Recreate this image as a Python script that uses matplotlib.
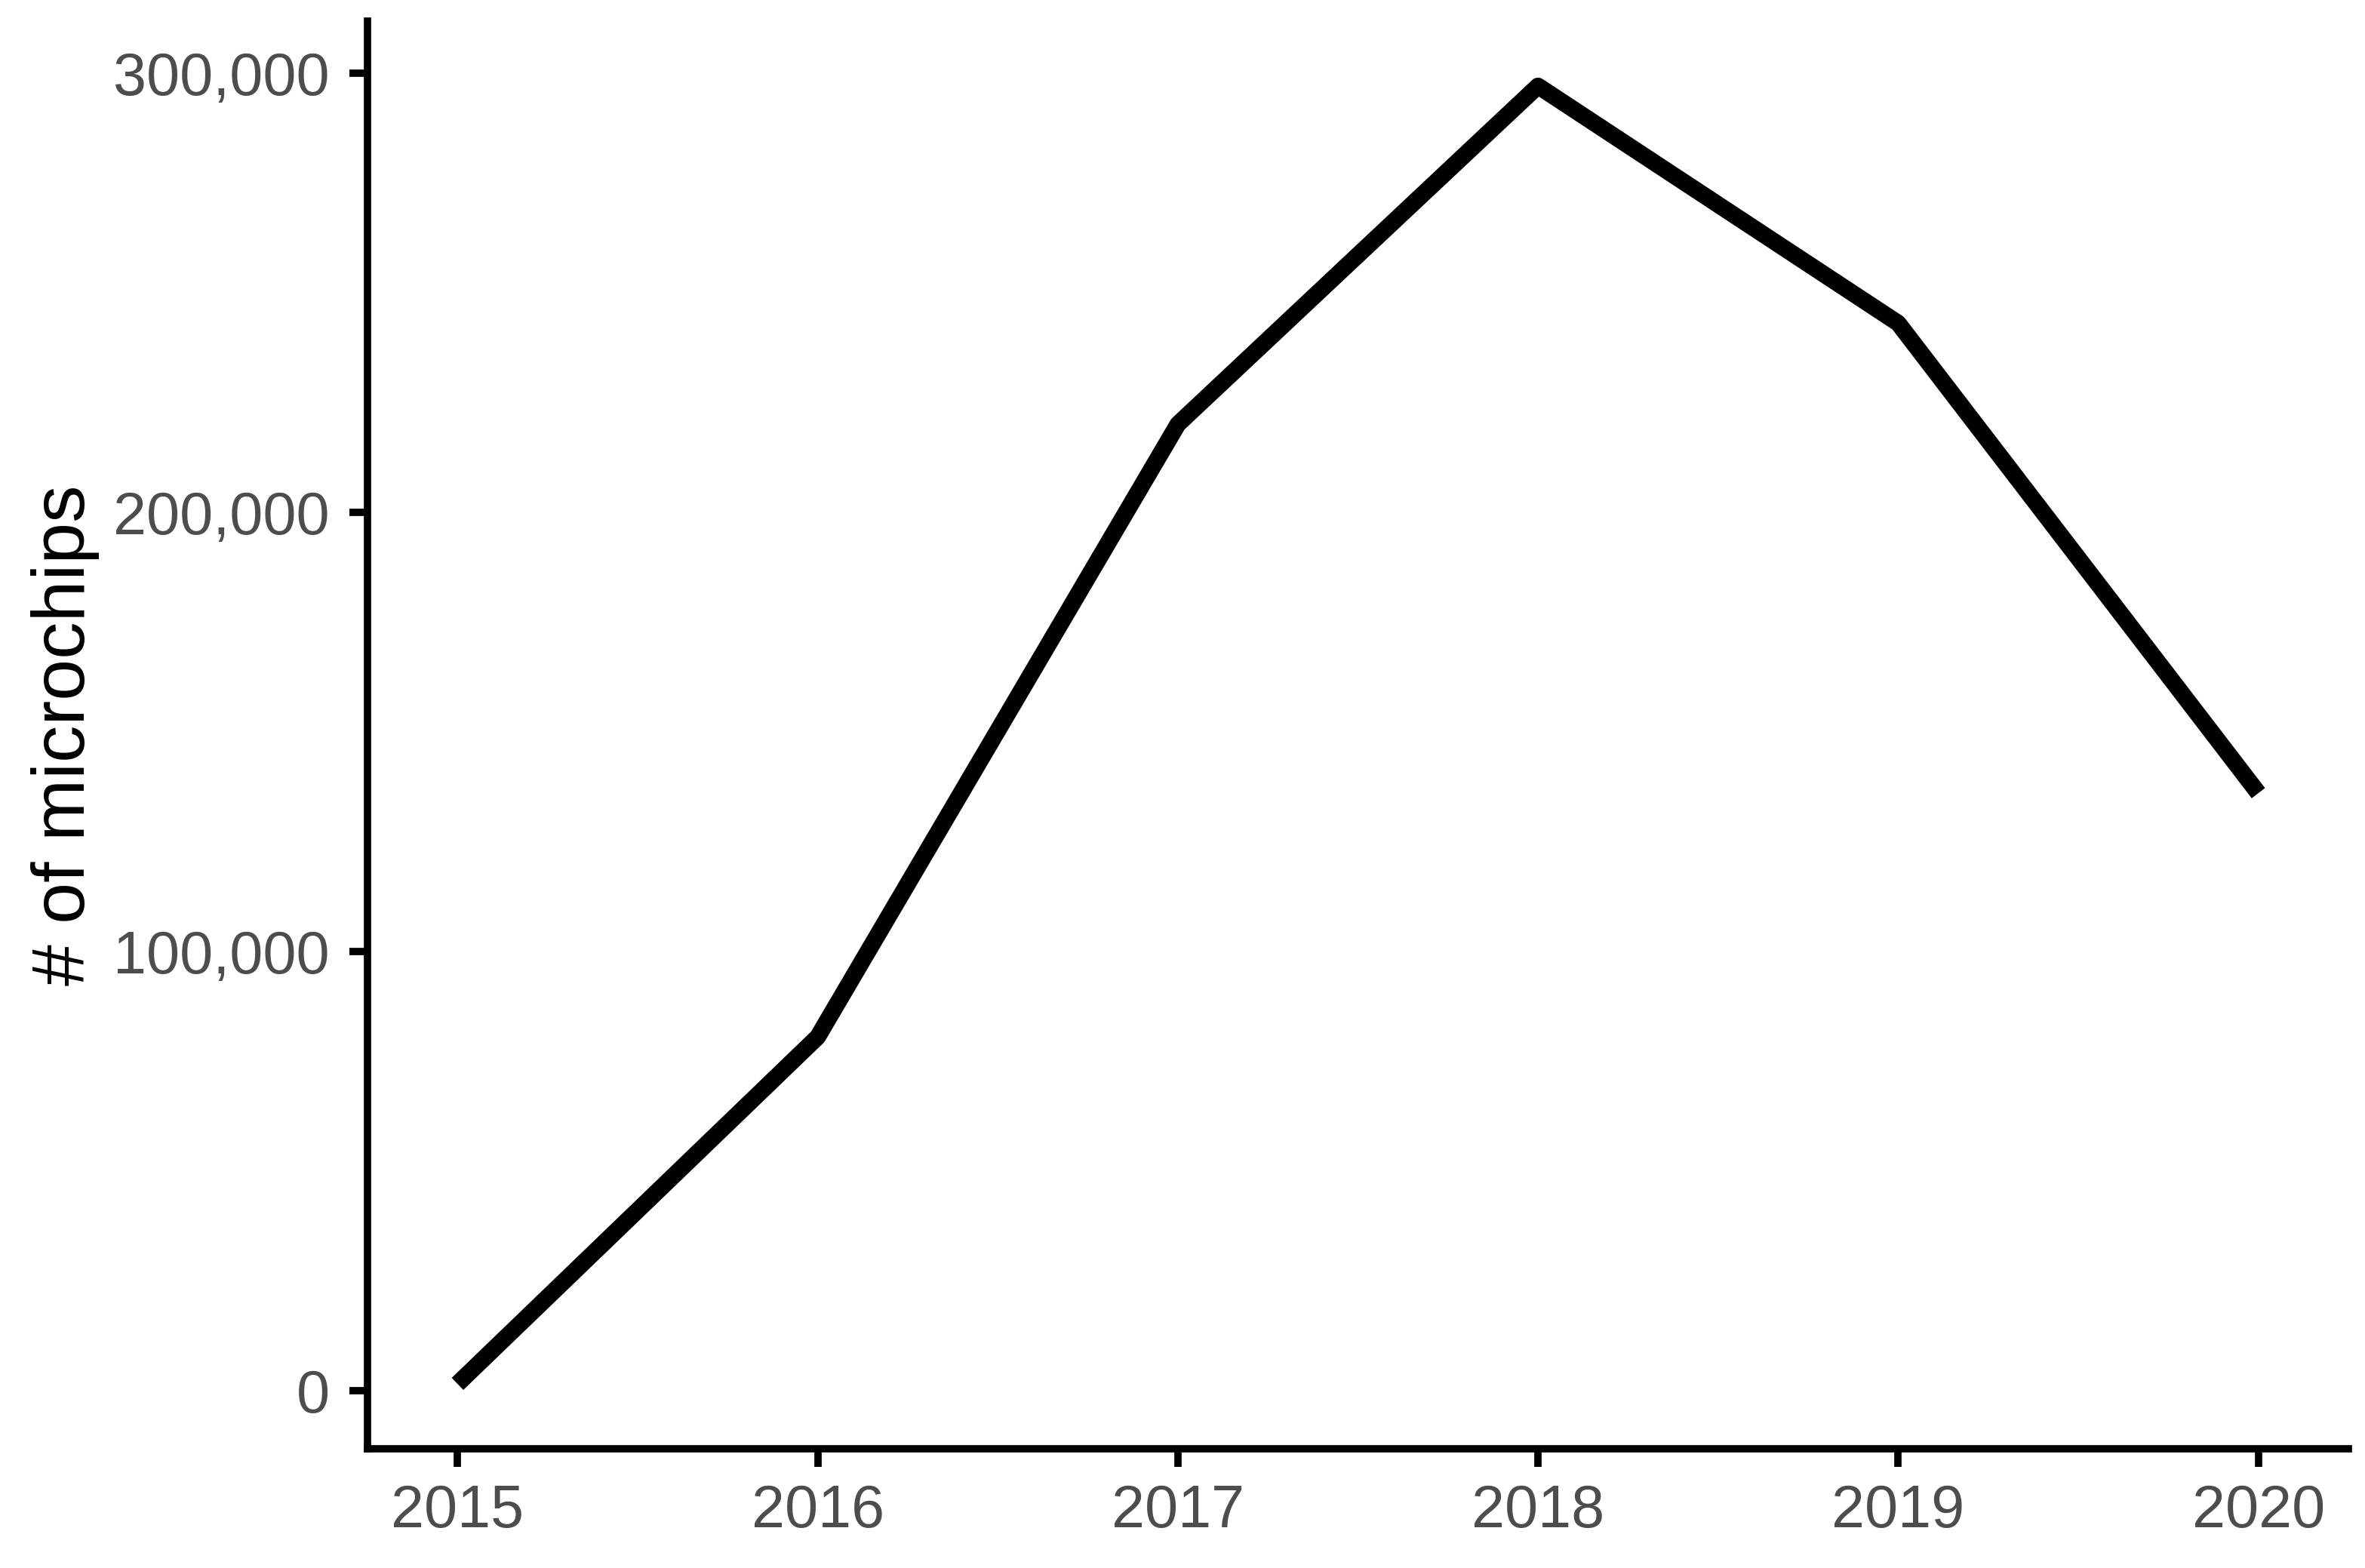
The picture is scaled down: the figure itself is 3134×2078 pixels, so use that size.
import matplotlib
matplotlib.use("Agg")
import matplotlib.pyplot as plt
from matplotlib.ticker import FuncFormatter

years = [2015, 2016, 2017, 2018, 2019, 2020]
microchips = [1500, 80500, 220000, 297000, 243000, 136000]
y_ticks = [0, 100000, 200000, 300000]
y_label = "# of microchips"

plt.rcParams['font.family'] = ['Liberation Sans', 'DejaVu Sans']

W, H = 3134, 2078
fig = plt.figure(figsize=(W / 100, H / 100), dpi=100)
ax = fig.add_axes([487/W, (H-1920)/H, (3112-487)/W, (1920-28)/H])

ax.plot(years, microchips, color='black', linewidth=16, solid_capstyle='butt', solid_joinstyle='round')

ax.set_xlim(2014.75, 2020.25)
rng = max(microchips) - min(microchips)
ax.set_ylim(min(microchips) - 0.05 * rng, max(microchips) + 0.05 * rng)
ax.set_xticks(years)
ax.set_yticks(y_ticks)
ax.yaxis.set_major_formatter(FuncFormatter(lambda v, p: f"{int(v):,}"))

for s in ['top', 'right']:
    ax.spines[s].set_visible(False)
for s in ['left', 'bottom']:
    ax.spines[s].set_linewidth(7)
    ax.spines[s].set_color('black')

ax.tick_params(axis='both', length=17, width=7, color='black', labelsize=57, labelcolor='#4D4D4D')
ax.tick_params(axis='y', pad=19)
ax.tick_params(axis='x', pad=16)

ax.set_ylabel(y_label, fontsize=71, color='black')
ax.yaxis.set_label_coords((132 - 487) / (3112 - 487), 0.5)

fig.savefig("out.png", dpi=100, facecolor='white')
